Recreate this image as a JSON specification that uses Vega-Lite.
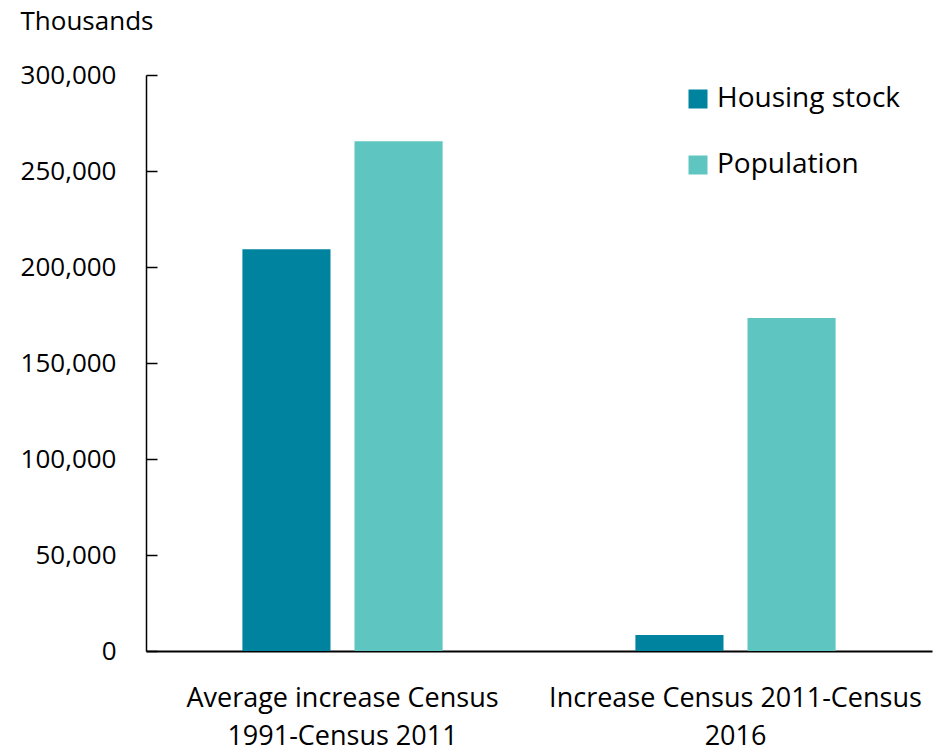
{
  "$schema": "https://vega.github.io/schema/vega-lite/v6.json",
  "width": 786,
  "height": 576,
  "autosize": "none",
  "padding": {"left": 146, "top": 75, "right": 4, "bottom": 105},
  "background": "white",
  "data": {
    "values": [
      {"period": "Average increase Census 1991-Census 2011", "series": "Housing stock", "value": 209200},
      {"period": "Average increase Census 1991-Census 2011", "series": "Population", "value": 265500},
      {"period": "Increase Census 2011-Census 2016", "series": "Housing stock", "value": 8300},
      {"period": "Increase Census 2011-Census 2016", "series": "Population", "value": 173400}
    ]
  },
  "config": {
    "font": "Open Sans",
    "view": {"stroke": null},
    "axis": {"labelColor": "#000", "titleColor": "#000", "labelFont": "Open Sans", "titleFont": "Open Sans", "labelLimit": 0},
    "legend": {"labelFont": "Open Sans", "labelColor": "#000", "labelLimit": 0}
  },
  "mark": {"type": "bar"},
  "encoding": {
    "x": {
      "field": "period",
      "type": "nominal",
      "sort": null,
      "scale": {"paddingInner": 0, "paddingOuter": 0},
      "axis": {
        "title": null,
        "labelAngle": 0,
        "labelFontSize": 27,
        "labelPadding": 34,
        "labelLineHeight": 38,
        "labelLimit": 0,
        "ticks": false,
        "domainColor": "#000",
        "domainWidth": 2,
        "labelExpr": "datum.value == 'Average increase Census 1991-Census 2011' ? ['Average increase Census', '1991-Census 2011'] : ['Increase Census 2011-Census', '2016']"
      }
    },
    "xOffset": {
      "field": "series",
      "type": "nominal",
      "scale": {"paddingInner": 0.214, "paddingOuter": 0.86}
    },
    "y": {
      "field": "value",
      "type": "quantitative",
      "scale": {"domain": [0, 300000]},
      "axis": {
        "values": [0, 50000, 100000, 150000, 200000, 250000, 300000],
        "format": ",d",
        "grid": false,
        "labelFontSize": 26,
        "tickSize": -11,
        "tickColor": "#000",
        "tickWidth": 1.5,
        "domainColor": "#000",
        "domainWidth": 1.5,
        "labelPadding": 41,
        "title": "Thousands",
        "titleFontSize": 26,
        "titleFontWeight": "normal",
        "titleAngle": 0,
        "titleAlign": "left",
        "titleBaseline": "alphabetic",
        "titleX": -126,
        "titleY": -46
      }
    },
    "color": {
      "field": "series",
      "type": "nominal",
      "scale": {"domain": ["Housing stock", "Population"], "range": ["#00839F", "#5FC5C1"]},
      "legend": {
        "title": null,
        "orient": "none",
        "legendX": 538,
        "legendY": 10,
        "symbolType": "square",
        "symbolSize": 361,
        "symbolStrokeWidth": 0,
        "labelFontSize": 28,
        "labelOffset": 5,
        "labelLimit": 0,
        "rowPadding": 38
      }
    }
  }
}
